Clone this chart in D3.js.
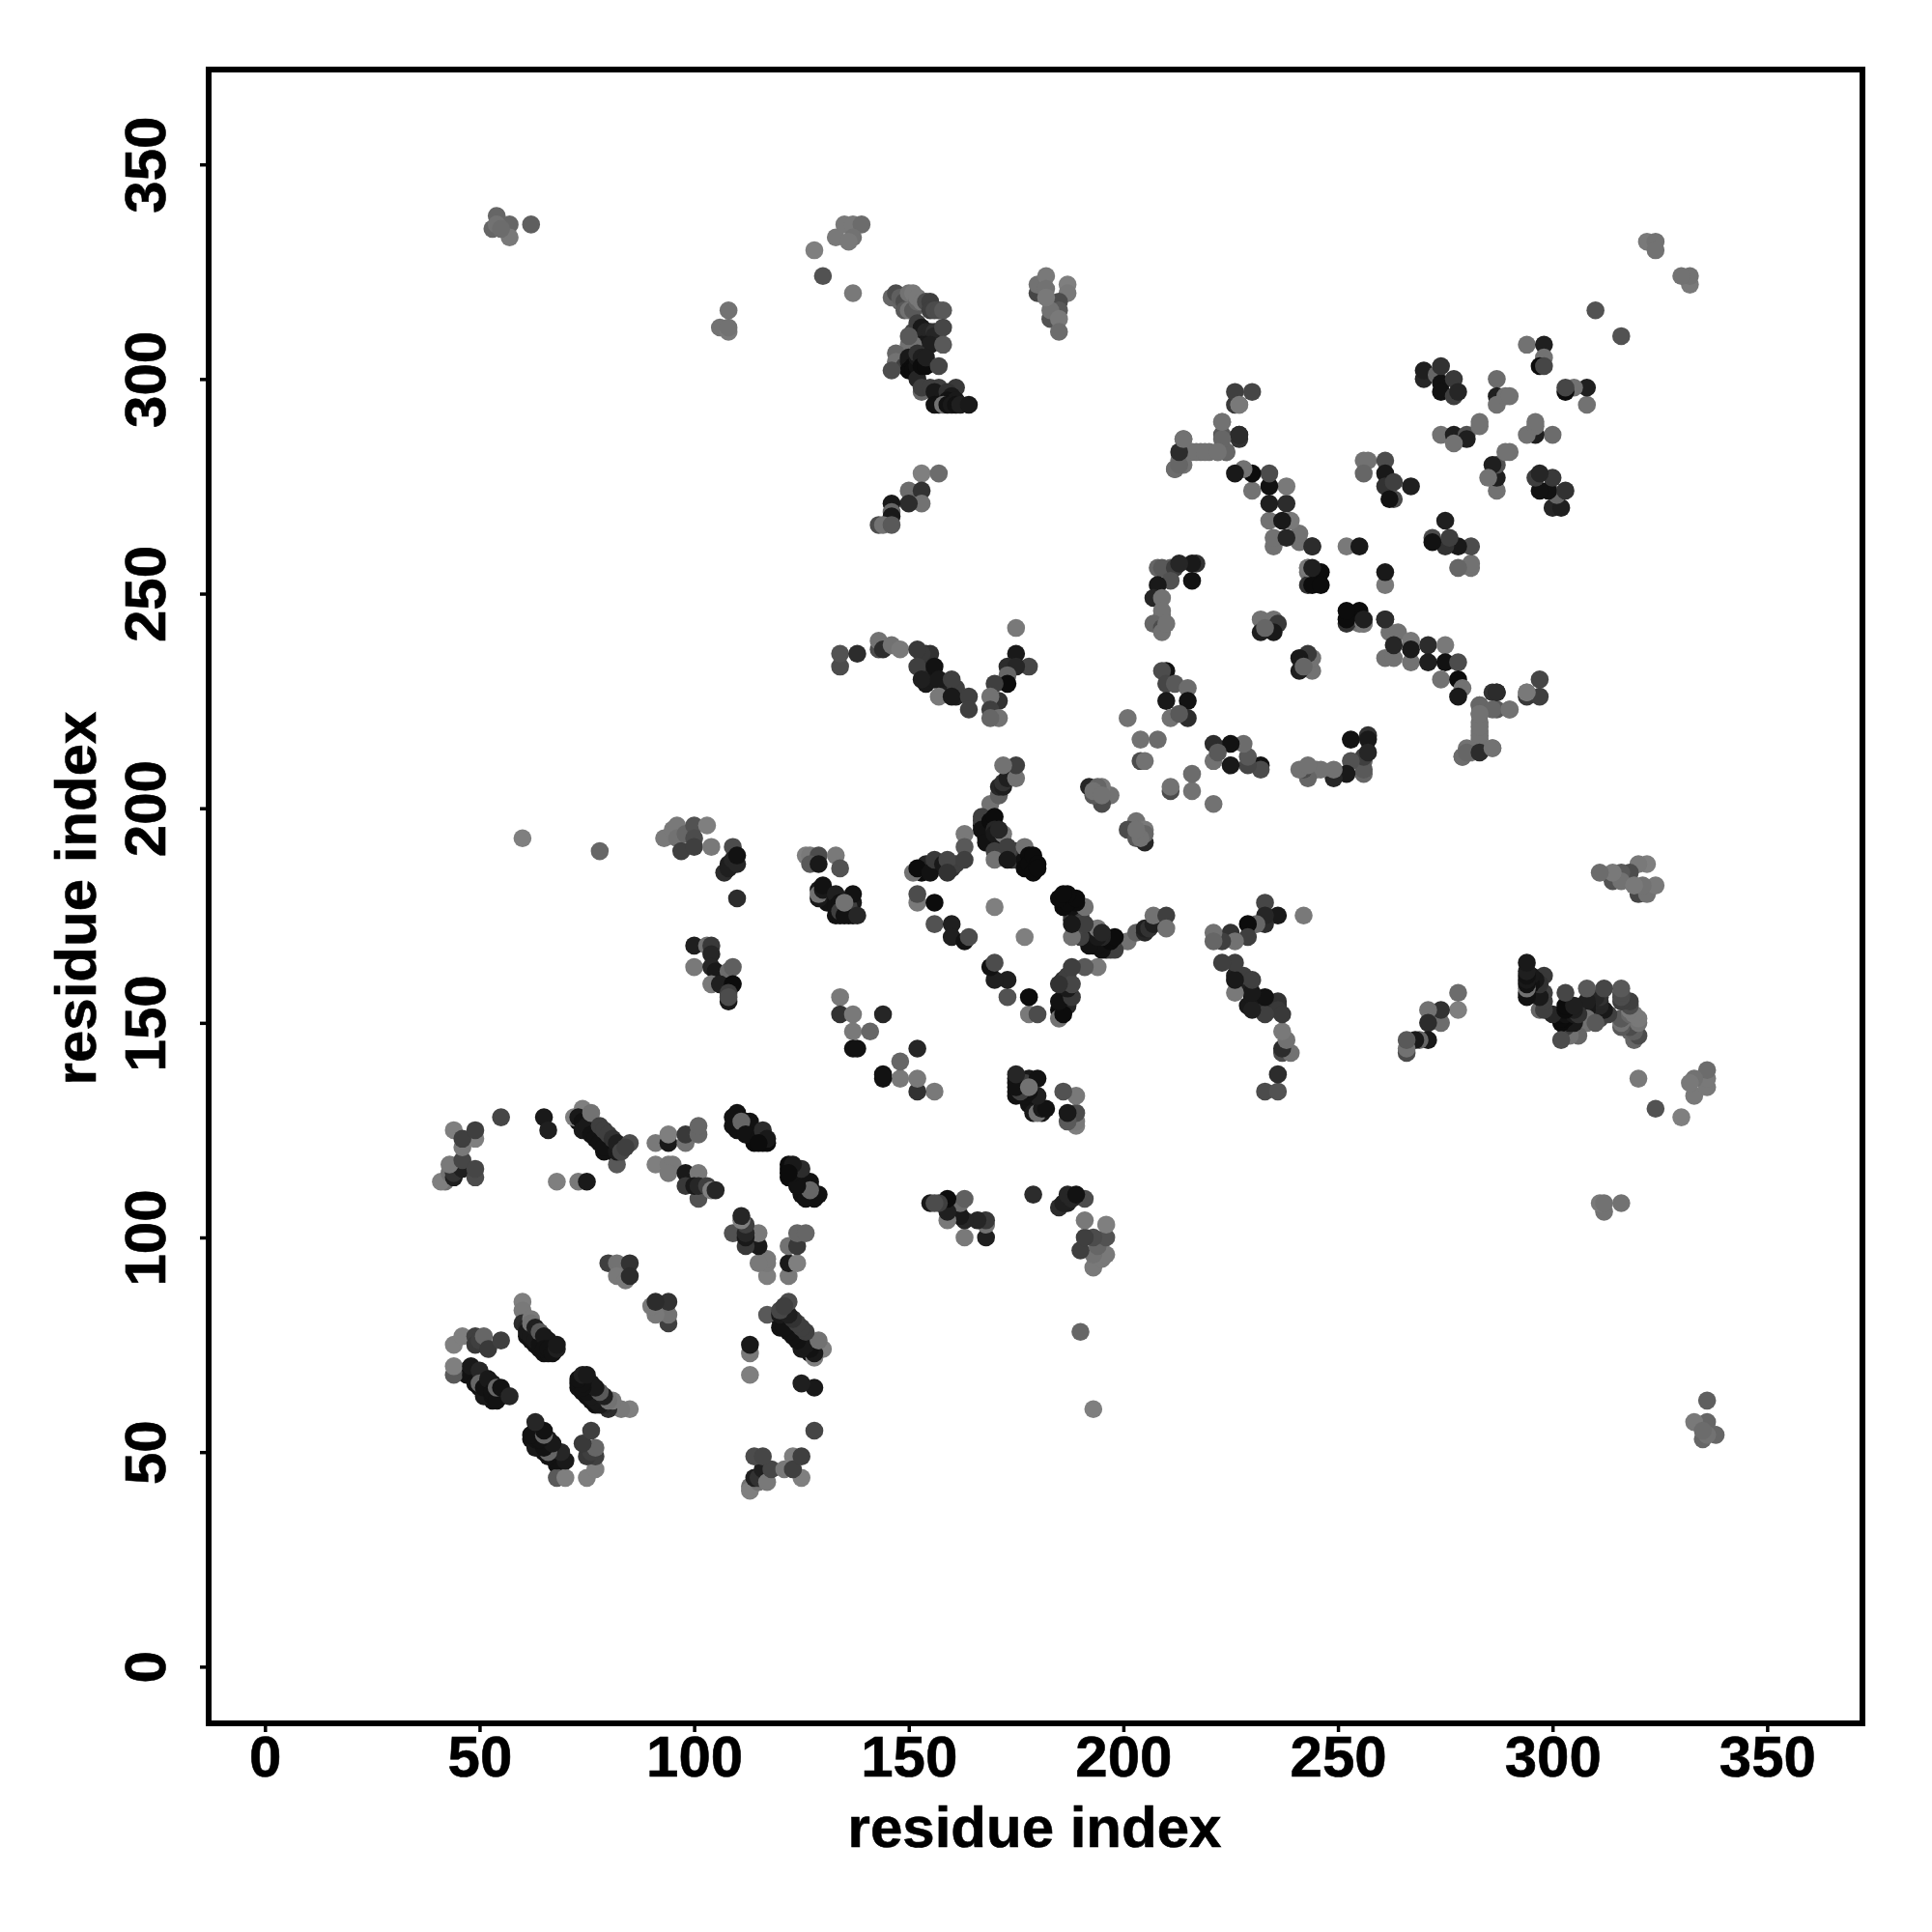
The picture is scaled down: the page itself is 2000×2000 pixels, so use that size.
<!DOCTYPE html>
<html><head><meta charset="utf-8">
<script src="https://cdn.jsdelivr.net/npm/d3@7/dist/d3.min.js"></script>
<style>html,body{margin:0;padding:0;background:#fff}svg{display:block}text{font-family:"Liberation Sans",Arial,sans-serif;font-weight:bold;fill:#000;stroke:#000;stroke-width:.6px}</style>
</head><body><svg id="c" width="2000" height="2000"></svg>
<script>
// Each contact is [residue i, residue j, strength 0..1].
// A contact map holds each pair on both sides of the diagonal, so each is read once and shown at (i,j) and (j,i).
const tickValues = [0, 50, 100, 150, 200, 250, 300, 350];
const axisTitle = "residue index";
const blockA = [[42,113,.2],[41,113,.1],[43,115,.2],[44,114,.85],[44,115,.7],[46,116,.85],[43,117,.15],[46,118,.55],[49,114,.5],[49,116,.55],[46,121,.15],[49,123,.1],[44,125,.1],[46,123,.6],[49,125,.6],[55,128,.55],[65,128,.9],[66,125,.85],[68,113,.1],[73,113,.15],[75,113,.9]];
const blockB = [[73,127,.95],[75,125,.95],[76,125,.95],[77,124,.9],[78,124,.9],[79,123,.9],[80,121,.95],[80,122,.9],[81,120,.95],[81,121,.9],[75,127,.9],[74,128,.9],[79,120,.95],[72,128,.1],[74,130,.1],[73,128,.9],[74,127,.95],[74,125,.9],[75,126,.9],[76,124,.95],[77,123,.95],[78,122,.95],[79,121,.95],[76,129,.2],[78,126,.6],[79,125,.6],[80,124,.6],[81,123,.7],[82,117,.4],[82,120,.9],[82,122,.85],[83,120,.55],[85,122,.5],[84,121,.6]];
const blockC = [[91,122,.15],[94,122,.9],[94,124,.1],[98,122,.2],[98,124,.65],[101,124,.3],[101,126,.3],[91,117,.1],[94,117,.15],[95,117,.15],[94,115,.15],[98,115,.9],[101,115,.15],[98,112,.65],[101,109,.45],[100,112,.9],[101,112,.8],[103,112,.6],[104,111,.1],[105,111,.8]];
const blockD = [[110,127,.95],[111,125,.95],[113,124,.95],[114,123,.95],[114,125,.95],[115,124,.9],[116,122,1],[117,122,1],[109,128,.95],[110,125,.95],[112,127,.95],[114,122,1],[109,126,.95],[110,129,.95],[113,127,.95],[111,127,.3],[112,124,.95],[115,123,.95],[116,125,.75],[117,123,.9],[115,122,1]];
const blockE = [[80,94,.6],[82,94,.2],[85,94,.7],[82,91,.15],[84,90,.15],[85,91,.75]];
const blockF = [[61,77,.95],[62,76,.95],[63,75,.95],[64,74,.95],[65,73,.95],[66,73,.95],[63,78,.9],[64,77,.9],[66,75,.9],[67,75,.9],[66,76,.9],[67,74,.95],[61,80,.7],[60,85,.1],[60,83,.15],[60,80,.75],[61,79,.8],[61,78,.9],[62,77,.9],[63,76,.9],[62,81,.15],[62,80,.2],[63,79,.85],[64,75,.95],[64,78,.4],[65,77,.9],[65,74,.95],[66,74,.95],[67,73,.95],[68,74,.85],[68,75,.9]];
const blockG = [[44,75,.1],[46,77,.1],[49,77,.6],[49,75,.65],[50,76,.6],[51,77,.3],[52,74,.65],[55,76,.6]];
const blockH = [[47,69,.9],[47,68,.95],[49,68,.95],[50,67,.95],[50,65,.95],[51,66,.95],[52,65,.95],[52,64,.95],[53,66,.9],[54,64,.95],[55,63,.95],[52,63,.95],[53,62,.95],[44,68,.4],[44,70,.1],[48,68,.95],[48,70,.9],[49,66,.95],[50,69,.8],[50,66,.3],[51,63,.9],[51,65,.95],[52,67,.9],[53,63,.95],[53,64,.95],[54,62,.95],[54,65,.3],[55,65,.95],[57,63,.8]];
const blockI = [[93,193,.15],[95,195,.15],[96,196,.15],[96,193,.2],[97,190,.6],[98,194,.3],[100,196,.45],[100,193,.5],[100,191,.6],[103,196,.1],[104,191,.15],[109,191,.5],[107,185,.75],[108,187,.85],[108,186,.85],[109,188,.8],[110,187,.8],[110,189,.95],[110,179,.75]];
const blockJ = [[100,168,.85],[103,168,.2],[104,168,.65],[104,166,.8],[100,163,.15],[104,163,.8],[105,162,.9],[108,162,.25],[109,163,.35],[104,159,.15],[106,159,.85],[109,159,1],[108,155,.9],[108,157,.6],[108,156,.5]];
const blockK = [[133,178,.95],[134,175,.95],[134,177,.95],[135,177,.95],[136,178,.95],[136,175,.95],[137,178,.9],[137,175,.95],[136,177,.6],[130,180,.95],[129,181,.9],[131,180,.95],[132,178,.95],[131,178,.95],[126,189,.1],[127,189,.15],[129,189,.5],[127,187,.4],[129,187,.9],[133,189,.15],[134,186,.45],[129,179,.9],[129,180,.2],[130,181,.9],[130,182,.95],[133,180,.85],[137,180,.95],[133,175,.95],[133,177,.95],[134,178,.95],[134,176,.6],[135,175,.95],[135,178,.2],[138,175,.8]];
const blockL = [[134,156,.15],[134,152,.7],[137,152,.15],[137,148,.15],[141,148,.3],[144,152,.8],[137,144,.95],[138,144,.95]];
const blockM = [[154,186,.95],[153,185,1],[157,187,.8],[160,186,.7],[161,187,.6],[154,187,.8],[151,185,.2],[152,186,1],[155,185,.95],[156,188,.65],[158,187,.9],[159,188,.55],[159,185,.7],[163,194,.15],[163,191,.4],[163,188,.6],[152,178,.15],[152,180,.5],[156,178,1],[156,173,.45],[160,173,.85],[160,170,.85],[163,169,.95],[164,170,.5],[170,177,.1]];
const blockN = [[168,196,.95],[169,195,.95],[169,194,.9],[171,193,.9],[171,192,.85],[172,192,.8],[174,190,.7],[175,190,.6],[172,190,.6],[171,191,.7],[176,188,.6],[174,188,.8],[175,188,.65],[178,186,1],[179,187,1],[177,188,.95],[171,189,.7],[172,191,.85],[170,192,.9],[169,192,.95],[169,193,.9],[168,195,.95],[168,193,1],[167,196,.9],[170,196,.9],[169,201,.2],[171,203,.35],[171,205,.8],[172,205,.85],[172,206,.7],[173,207,.85],[175,207,.2],[175,210,.6],[172,210,.2],[167,197,.6],[167,198,.6],[167,195,.95],[168,194,.95],[168,192,.95],[169,197,1],[170,198,1],[170,195,.8],[170,194,.9],[172,194,.15],[170,190,.6],[173,190,.55],[173,191,.6],[170,188,.2],[173,188,.9],[171,195,.8],[177,191,.2],[177,186,1],[178,189,1],[178,187,1],[179,185,1],[179,189,1],[180,187,1],[180,186,1]];
const blockO = [[128,330,.1],[130,324,.45],[137,320,.15],[133,333,.15],[135,336,.15],[137,336,.15],[139,336,.25],[137,333,.2],[136,332,.15]];
const blockP = [[146,319,.3],[147,320,.5],[148,318,.3],[148,319,.35],[149,318,.5],[149,316,.4],[150,316,.2],[150,320,.2],[151,320,.15],[151,316,.4],[152,318,.3],[152,319,.15],[153,318,.15],[154,318,.5],[155,318,.6],[155,316,.6],[156,316,.5],[157,316,.5],[158,316,.4],[151,311,.55],[152,311,.6],[152,313,.6],[153,311,.6],[153,312,.9],[154,311,.8],[155,311,.8],[156,311,.7],[156,310,.8],[158,312,.55],[154,308,.9],[153,308,.9],[155,308,.85],[158,308,.4],[151,308,.2],[150,308,.2],[150,310,.4],[147,306,.3],[147,304,.2],[149,303,.6],[150,304,.9],[150,305,.9],[150,302,1],[151,303,1],[151,302,1],[152,302,1],[152,303,.95],[152,305,.9],[152,306,.7],[152,300,.8],[153,305,.85],[153,303,1],[154,303,1],[154,305,.85],[157,303,.55],[146,302,.5],[153,297,.3],[153,298,.6],[155,298,.6],[157,298,.6],[161,298,.65],[158,296,.7],[156,297,.9],[159,297,.7],[160,296,.9],[159,295,.95],[161,295,.9],[156,294,.95],[157,294,.95],[158,294,.2],[159,294,.95],[160,294,.9],[161,294,.95],[162,294,.85],[164,294,.9]];
const blockQ = [[153,278,.1],[157,278,.25],[150,274,.25],[153,274,.7],[153,271,.2],[150,271,.75],[146,271,.9],[146,269,.3],[146,268,.9],[143,266,.5],[144,266,.2],[146,266,.4]];
const blockR = [[154,232,.85],[155,231,.9],[155,230,.9],[154,229,.9],[156,230,.9],[158,229,.85],[159,228,.85],[153,233,.75],[154,236,.7],[155,236,.7],[153,236,.65],[161,226,.85],[161,228,.6],[134,233,.5],[134,236,.45],[138,236,.75],[143,237,.5],[143,239,.2],[144,237,.75],[146,238,.2],[148,237,.15],[152,237,.65],[152,233,.6],[156,233,.95],[153,230,.85],[157,230,.9],[160,230,.6],[157,226,.15],[160,226,.9],[164,226,.6],[164,223,.6],[175,242,.15],[175,236,.9],[178,233,.55],[173,233,.75],[175,233,.8],[173,231,.3],[173,229,1],[170,229,.6],[171,225,.7],[169,226,.2],[169,223,.6],[171,221,.2],[169,221,.3]];
const blockS = [[180,320,.55],[180,322,.2],[182,324,.15],[182,321,.2],[187,322,.1],[187,320,.15],[183,318,.2],[185,318,.5],[185,316,.4],[183,314,.45],[183,316,.2],[185,314,.15],[185,311,.25],[182,319,.15]];
const blockT = [[214,283,.75],[214,286,.15],[213,281,.2],[212,279,.25],[214,280,.2],[216,283,.2],[218,283,.2],[220,283,.2],[222,283,.3],[217,283,.2],[219,283,.2],[224,283,.35],[223,287,.4],[223,290,.15],[227,286,.7],[227,287,.8],[226,294,.65],[227,294,.1],[226,297,.6],[230,297,.55]];
const blockU = [[244,261,.75],[241,262,.2],[241,264,.2],[235,261,.2],[235,263,.2],[238,263,.8],[239,267,.15],[234,267,.2],[237,267,.9],[238,271,.75],[238,275,.15],[234,271,.85],[234,275,.95],[234,278,.5],[230,274,.2],[230,278,1],[228,279,.2],[226,278,.9],[212,279,.25],[213,280,.3],[213,283,.75],[214,286,.2]];
const blockV = [[243,255,.2],[244,255,.85],[246,255,1],[243,252,.7],[244,252,1],[246,252,1],[243,256,.15],[252,261,.15],[255,261,.9]];
const blockW = [[256,281,.2],[257,281,.2],[261,281,.5],[256,278,.3],[261,278,.9],[261,275,.7],[263,276,.6],[267,275,.85],[263,272,.5],[262,272,.95]];
const blockX = [[322,332,.15],[324,332,.2],[324,330,.2],[310,316,.45]];
const blockY = [[54,338,.3],[53,335,.3],[57,336,.3],[57,333,.15],[62,336,.35],[54,336,.2],[55,335,.25],[60,193,.1],[78,190,.3],[108,316,.2],[106,312,.2],[108,311,.15],[108,312,.2]];
const blockZ = [[270,300,.8],[270,302,.85],[273,301,.3],[274,299,.95],[274,303,.7],[277,300,.65],[274,297,.95],[277,296,.6],[278,297,.8],[287,300,.25],[287,296,.85],[287,294,.2],[289,296,.2],[290,296,.2],[294,308,.2],[298,308,.85],[298,305,.2],[297,303,1],[298,303,.55],[274,287,.2],[277,287,.85],[280,287,.45],[280,286,.85],[277,285,.2],[283,290,.2],[283,289,.2]];
const blockAA = [[208,256,.3],[211,256,.3],[209,256,.4],[212,256,.6],[216,253,.95],[217,257,.7],[216,257,.9],[213,257,.8],[211,253,.45],[208,252,.9],[207,249,.8],[209,249,.2],[209,245,.2],[209,246,.2],[207,243,.3],[209,242,.5],[209,241,.2],[210,243,.2]];
const blockAB = [[210,232,.95],[209,232,.5],[210,229,.55],[212,229,.4],[215,228,.25],[210,225,.9],[215,225,.95],[211,221,.2],[215,221,.75],[213,222,.4],[201,221,.2],[204,216,.2],[208,216,.25],[204,211,.5],[205,211,.2],[197,203,.2],[195,201,.5],[195,205,.15],[193,203,.4],[192,205,.8],[194,205,.3],[193,204,.2],[195,203,.2]];
const blockAC = [[232,244,.2],[235,244,.2],[236,243,.65],[232,241,.85],[235,241,.9],[233,242,.3]];
const blockAD = [[227,287,.75],[224,283,.3],[223,286,.3],[223,290,.2],[227,294,.15],[222,283,.2]];
const blockAE = [[243,256,.15],[244,256,.85],[244,261,.75]];

const contactBlocks = [blockA,blockB,blockC,blockD,blockE,blockF,blockG,blockH,blockI,blockJ,blockK,blockL,blockM,blockN,blockO,blockP,blockQ,blockR,blockS,blockT,blockU,blockV,blockW,blockX,blockY,blockZ,blockAA,blockAB,blockAC,blockAD,blockAE];
const oneSide = contactBlocks.flat();
const contacts = oneSide.concat(oneSide.map(d => [d[1], d[0], d[2]]));

const L = 216, R = 1928, T = 72, B = 1784;
const x = d3.scaleLinear().domain([-13.12, 372.2]).range([L, R]);
const y = d3.scaleLinear().domain([-13.2, 372.1]).range([B, T]);
const shade = d3.scaleLinear().domain([0, 1]).range(["#8c8c8c", "#0c0c0c"]);
const svg = d3.select("#c");

svg.append("g").selectAll("circle").data(contacts).join("circle")
  .attr("cx", d => x(d[0])).attr("cy", d => y(d[1])).attr("r", 9.3)
  .attr("fill", d => shade(d[2]));

svg.append("rect").attr("x", L).attr("y", T).attr("width", R - L).attr("height", B - T)
  .attr("fill", "none").attr("stroke", "#000").attr("stroke-width", 6);

const ax = svg.append("g").attr("transform", `translate(0,${B})`)
  .call(d3.axisBottom(x).tickValues(tickValues).tickSize(9).tickPadding(0));
ax.select(".domain").remove();
ax.selectAll("line").attr("stroke", "#000").attr("stroke-width", 3.5);
ax.selectAll("text").attr("font-size", 60).attr("dy", 0).attr("y", 55).style("font-family", '"Liberation Sans"').style("font-weight", "bold");

const ay = svg.append("g").attr("transform", `translate(${L},0)`)
  .call(d3.axisLeft(y).tickValues(tickValues).tickSize(9).tickPadding(0));
ay.select(".domain").remove();
ay.selectAll("line").attr("stroke", "#000").attr("stroke-width", 3.5);
ay.selectAll("text").attr("font-size", 60).attr("dy", 0).attr("x", 0).attr("y", 0)
  .attr("text-anchor", "middle")
  .attr("transform", "translate(-45,0) rotate(-90)")
  .style("font-family", '"Liberation Sans"').style("font-weight", "bold");

svg.append("text").attr("x", (L + R) / 2 - 1).attr("y", 1912).attr("text-anchor", "middle").attr("font-size", 60).text(axisTitle);
svg.append("text").attr("transform", `translate(99,${(T + B) / 2 + 2}) rotate(-90)`).attr("text-anchor", "middle").attr("font-size", 60).text(axisTitle);
</script></body></html>
